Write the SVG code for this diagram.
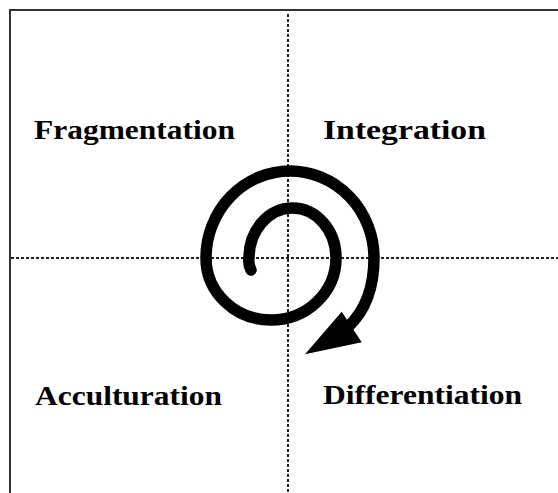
<svg xmlns="http://www.w3.org/2000/svg" width="558" height="493" viewBox="0 0 558 493">
  <style>
    .label { font-family: "Liberation Serif", "Times New Roman", serif; font-weight: bold; font-size: 27.5px; fill: #000; }
    .axis { stroke: #222; stroke-width: 2; stroke-dasharray: 3 2; fill: none; }
    .frame { stroke: #333; stroke-width: 2; fill: none; }
    .spiral { stroke: #000; stroke-width: 11.5; fill: none; stroke-linecap: round; }
  </style>
  <rect x="0" y="0" width="558" height="493" fill="#fff"/>
  <g id="frame">
    <line class="frame" x1="9" y1="10" x2="558" y2="10"/>
    <line class="frame" x1="10" y1="9" x2="10" y2="493"/>
  </g>
  <g id="axes">
    <line class="axis" x1="288" y1="14" x2="288" y2="493"/>
    <line class="axis" x1="11" y1="258" x2="558" y2="258"/>
  </g>
  <g id="label-fragmentation">
    <text class="label" x="34" y="139" textLength="201" lengthAdjust="spacingAndGlyphs">Fragmentation</text>
  </g>
  <g id="label-integration">
    <text class="label" x="323" y="139" textLength="163" lengthAdjust="spacingAndGlyphs">Integration</text>
  </g>
  <g id="label-acculturation">
    <text class="label" x="35" y="405" textLength="187" lengthAdjust="spacingAndGlyphs">Acculturation</text>
  </g>
  <g id="label-differentiation">
    <text class="label" x="323" y="404" textLength="199" lengthAdjust="spacingAndGlyphs">Differentiation</text>
  </g>
  <g id="connectors">
    <path class="spiral" d="M 251,270 Q 248,264 249,258 A 43.5 50 0 0 1 336,258 A 65 62 0 0 1 206,258 A 84 87 0 0 1 374,258 C 374,285 366,310 348,327"/>
    <polygon points="341.7,311.7 361.7,342.3 305,354.3" fill="#000"/>
  </g>
</svg>
